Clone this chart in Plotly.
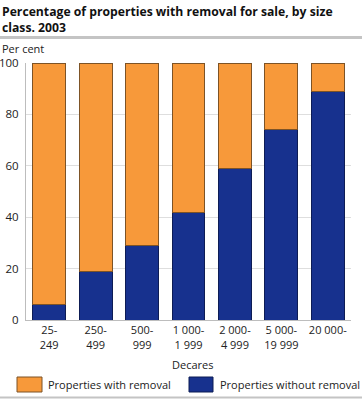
import plotly.graph_objects as go

categories = ["25-<br>249", "250-<br>499", "500-<br>999", "1 000-<br>1 999",
              "2 000-<br>4 999", "5 000-<br>19 999", "20 000-"]
without_removal = [6, 19, 29, 42, 59, 74, 89]
with_removal = [94, 81, 71, 58, 41, 26, 11]
y_ticks = [0, 20, 40, 60, 80, 100]

ORANGE = "#F7993A"
BLUE = "#17318E"
FONT = "Open Sans"

W, H = 362, 399
L, R, T, B = 26, 11, 63, 79
pw = W - L - R
ph = H - T - B


def px(x):
    return (x - L) / pw


def py(y):
    return (H - B - y) / ph


fig = go.Figure()
fig.add_trace(go.Bar(x=categories, y=without_removal, name="Properties without removal",
                     marker=dict(color=BLUE, line=dict(color="#0d1c55", width=1)),
                     showlegend=False))
fig.add_trace(go.Bar(x=categories, y=with_removal, name="Properties with removal",
                     marker=dict(color=ORANGE, line=dict(color="#7d5326", width=1)),
                     showlegend=False))

shapes = [
    dict(type="line", xref="paper", yref="paper", x0=px(0), x1=px(W), y0=py(37.5), y1=py(37.5),
         line=dict(color="#c4c4c4", width=3)),
    dict(type="line", xref="paper", yref="paper", x0=px(0), x1=px(W), y0=py(397.5), y1=py(397.5),
         line=dict(color="#c4c4c4", width=2)),
    dict(type="rect", xref="paper", yref="paper", x0=px(17), x1=px(42), y0=py(392), y1=py(377),
         fillcolor=ORANGE, line=dict(color="#7d5326", width=1)),
    dict(type="rect", xref="paper", yref="paper", x0=px(189), x1=px(213), y0=py(392), y1=py(377),
         fillcolor=BLUE, line=dict(color="#0d1c55", width=1)),
]

annotations = [
    dict(text="<b>Percentage of properties with removal for sale, by size<br>class. 2003</b>",
         xref="paper", yref="paper", x=px(0), y=py(1), xanchor="left", yanchor="top",
         align="left", showarrow=False, font=dict(size=12.2, color="#111", family=FONT)),
    dict(text="Per cent", xref="paper", yref="paper", x=px(0), y=py(49), xanchor="left",
         yanchor="middle", showarrow=False, font=dict(size=11, color="#222", family=FONT)),
    dict(text="Decares", xref="paper", yref="paper", x=px(192), y=py(364), xanchor="center",
         yanchor="middle", showarrow=False, font=dict(size=11, color="#222", family=FONT)),
    dict(text="Properties with removal", xref="paper", yref="paper", x=px(46), y=py(384.5),
         xanchor="left", yanchor="middle", showarrow=False,
         font=dict(size=11, color="#222", family=FONT)),
    dict(text="Properties without removal", xref="paper", yref="paper", x=px(218), y=py(384.5),
         xanchor="left", yanchor="middle", showarrow=False,
         font=dict(size=11, color="#222", family=FONT)),
]

fig.update_layout(
    template="none",
    width=W, height=H,
    margin=dict(l=L, r=R, t=T, b=B, pad=0),
    barmode="stack", bargap=0.29,
    plot_bgcolor="white", paper_bgcolor="white",
    showlegend=False,
    font=dict(family=FONT, size=11, color="#222"),
    shapes=shapes, annotations=annotations,
    xaxis=dict(showgrid=False, showline=True, linecolor="#bdbdbd", linewidth=1, automargin=False,
               ticks="", tickfont=dict(size=11, color="#222"), fixedrange=True),
    yaxis=dict(range=[0, 100], tickvals=y_ticks, showgrid=True, gridcolor="#dedede",
               gridwidth=1, showline=True, linecolor="#bdbdbd", linewidth=1, zeroline=False,
               automargin=False, ticks="", ticklabelstandoff=4, fixedrange=True,
               tickfont=dict(size=11.5, color="#222")),
)

fig.write_html("out.html", config={"displayModeBar": False},
               post_script="document.body.style.margin='0';")
